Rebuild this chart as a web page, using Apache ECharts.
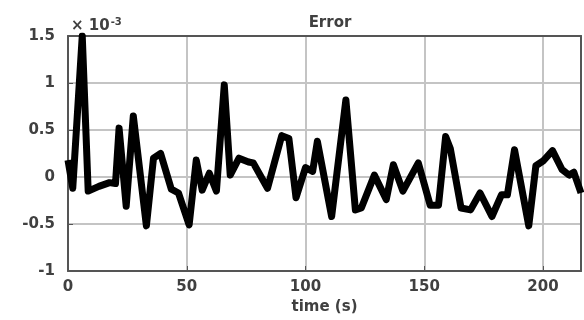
<!DOCTYPE html>
<html>
<head>
<meta charset="utf-8">
<script src="https://cdn.jsdelivr.net/npm/echarts@6/dist/echarts.min.js"></script>
<style>
  html, body { margin: 0; padding: 0; background: #fff; }
  #chart { width: 584px; height: 320px; }
</style>
</head>
<body>
<div id="chart"></div>
<script>
// time (s)
const times = [0, 2, 6, 8.5, 13, 17.5, 20, 21.5, 24.5, 27.5, 33, 36, 39, 43.5, 46.5, 51, 54, 56.5, 59.5, 62.5,
  65.8, 68.3, 72, 76, 78, 84, 90, 93, 96, 100, 103, 105, 111, 117, 121, 123.5, 129, 134, 137, 141,
  147.5, 152.5, 156, 159, 161, 165.5, 169.5, 173.5, 178.5, 182.5, 185, 188, 194, 197, 200, 204, 208, 211, 213, 216];
// error, in units of 1e-3
const errors = [0.18, -0.12, 1.5, -0.15, -0.1, -0.06, -0.07, 0.52, -0.31, 0.65, -0.52, 0.2, 0.25, -0.13, -0.17, -0.51, 0.18, -0.14, 0.04, -0.15,
  0.98, 0.02, 0.2, 0.16, 0.15, -0.12, 0.44, 0.41, -0.22, 0.1, 0.06, 0.38, -0.42, 0.82, -0.35, -0.33, 0.02, -0.24, 0.13, -0.15,
  0.15, -0.3, -0.3, 0.43, 0.3, -0.33, -0.35, -0.17, -0.42, -0.19, -0.19, 0.29, -0.52, 0.12, 0.17, 0.28, 0.08, 0.02, 0.05, -0.17];
const yTicks = ["-1", "-0.5", "0", "0.5", "1", "1.5"];

const txt = "#404040";
const edge = "#555";
const font = "DejaVu Sans";
const labelStyle = { fontFamily: font, fontSize: 15, fontWeight: "bold", color: txt };

// box edge axes (top / right), no labels
const frameX = {
  type: "value", position: "top", min: 0, max: 216, interval: 50,
  axisLine: { show: true, onZero: false, lineStyle: { color: edge, width: 2 } },
  axisTick: { show: false }, axisLabel: { show: false }, splitLine: { show: false }
};
const frameY = {
  type: "value", position: "right", min: -1, max: 1.5, interval: 0.5,
  axisLine: { show: true, onZero: false, lineStyle: { color: edge, width: 2 } },
  axisTick: { show: false }, axisLabel: { show: false }, splitLine: { show: false }
};

const chart = echarts.init(document.getElementById("chart"), null, { renderer: "canvas" });
chart.setOption({
  animation: false,
  title: [
    {
      text: "Error",
      left: 325, top: 11, textAlign: "center",
      textStyle: labelStyle
    },
    {
      text: "{a|× 10}{b|-3}",
      left: 66, top: 12,
      textStyle: {
        rich: {
          a: labelStyle,
          b: { fontFamily: font, fontSize: 10, fontWeight: "bold", color: txt, verticalAlign: "top", padding: [0, 0, 8, 1] }
        }
      }
    }
  ],
  grid: { left: 68, right: 2, top: 36, bottom: 49 },
  xAxis: [
    {
      type: "value",
      min: 0, max: 216, interval: 50,
      name: "time (s)",
      nameLocation: "middle",
      nameGap: 28,
      nameTextStyle: labelStyle,
      axisLine: { show: true, onZero: false, lineStyle: { color: edge, width: 2 } },
      axisTick: { inside: true, length: 5, lineStyle: { color: edge } },
      axisLabel: Object.assign({ margin: 9, formatter: v => (v % 50 === 0 ? String(v) : "") }, labelStyle),
      splitLine: { show: true, lineStyle: { color: "#c4c4c4", width: 2 } }
    },
    frameX
  ],
  yAxis: [
    {
      type: "value",
      min: -1, max: 1.5, interval: 0.5,
      axisLine: { show: true, onZero: false, lineStyle: { color: edge, width: 2 } },
      axisTick: { inside: true, length: 5, lineStyle: { color: edge } },
      axisLabel: Object.assign({ margin: 13, formatter: v => yTicks[Math.round((v + 1) / 0.5)] }, labelStyle),
      splitLine: { show: true, lineStyle: { color: "#c4c4c4", width: 2 } }
    },
    frameY
  ],
  series: [
    {
      type: "line",
      data: times.map((t, i) => [t, errors[i]]),
      showSymbol: false,
      clip: true,
      lineStyle: { color: "#000", width: 7, join: "round" }
    }
  ]
});
</script>
</body>
</html>
